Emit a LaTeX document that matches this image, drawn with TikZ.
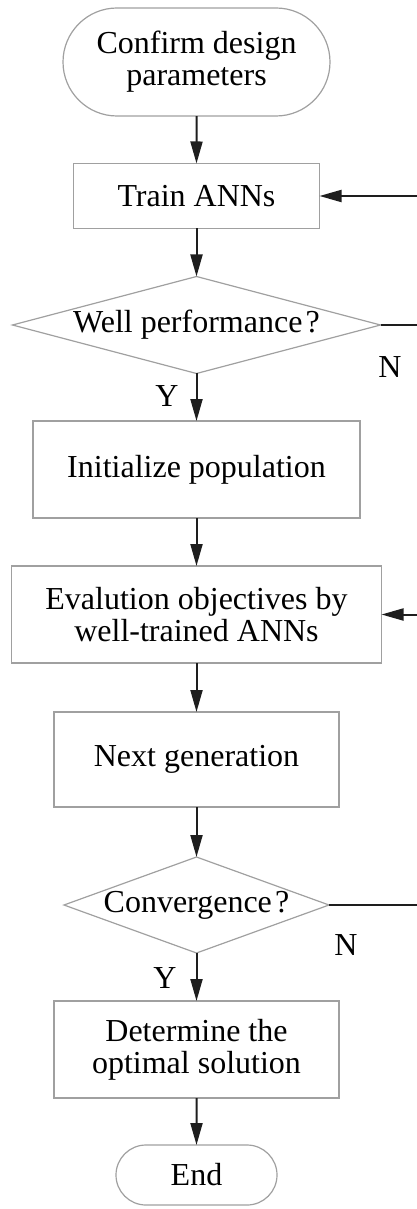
\documentclass[tikz,border=0pt]{standalone}
\usepackage{fontspec}
\setmainfont{Liberation Serif}
\usetikzlibrary{arrows.meta, positioning, shapes.geometric, shapes.misc}
\definecolor{fcgray}{RGB}{160, 160, 160}
\definecolor{fcline}{RGB}{30, 30, 30}

\begin{document}
\begin{tikzpicture}[x=0.5pt, y=-0.5pt, >={Triangle[length=11pt, width=6pt]},
    font=\fontsize{16}{16}\selectfont,
    term/.style={rounded rectangle, draw=fcgray, line width=0.6pt, align=center, inner sep=0pt, outer sep=0pt},
    proc/.style={rectangle, draw=fcgray, line width=0.6pt, align=center, inner sep=0pt, outer sep=0pt},
    cond/.style={diamond, draw=fcgray, line width=0.6pt, inner sep=0pt, outer sep=0pt},
    flow/.style={->, line width=1pt, fcline},
    back/.style={line width=1pt, fcline}]

\useasboundingbox (0,0) rectangle (417,1209);

% === Bloques del diagrama ===
\node[term, minimum width=133.5pt, minimum height=54pt] (confirm) at (196.5,62) {Confirm design\\parameters};
\node[proc, minimum width=123pt, minimum height=32.5pt] (train) at (196.5,196) {Train ANNs};
\node[cond, minimum width=184pt, minimum height=48.5pt, aspect=3.8] (perf) at (196.5,325) {Well performance\kern0.1em?};
\node[proc, minimum width=163.5pt, minimum height=48.5pt] (init) at (196.5,469.5) {Initialize population};
\node[proc, minimum width=185pt, minimum height=48.5pt] (evalobj) at (196.5,614.5) {Evalution objectives by\\well-trained ANNs};
\node[proc, minimum width=142.5pt, minimum height=47.5pt] (nextgen) at (196.5,759.5) {Next generation};
\node[cond, minimum width=132.5pt, minimum height=48pt, aspect=2.76] (conv) at (196.5,905) {Convergence\kern0.1em?};
\node[proc, minimum width=142.5pt, minimum height=48.5pt] (optimal) at (196.5,1049.5) {Determine the\\optimal solution};
\node[term, minimum width=80.5pt, minimum height=30pt] (finish) at (196.5,1175) {End};

% Etiquetas Y / N
\node (perfno) at (390,367) {N};
\node (perfyes) at (167,396) {Y};
\node (convno) at (346,945) {N};
\node (convyes) at (165,978) {Y};

% === Flechas ===
\draw[flow] (confirm) -- (train);
\draw[flow] (train) -- (perf);
\draw[flow] (perf) -- (init);
\draw[flow] (init) -- (evalobj);
\draw[flow] (evalobj) -- (nextgen);
\draw[flow] (nextgen) -- (conv);
\draw[flow] (conv) -- (optimal);
\draw[flow] (optimal) -- (finish);

% Retornos por el borde derecho
\coordinate (trainback) at (417,196);
\coordinate (perfout) at (417,325);
\coordinate (evalback) at (417,614.5);
\coordinate (convout) at (417,905);
\draw[back] (perf.east) -- (perfout);
\draw[flow] (trainback) -- (train.east);
\draw[back] (conv.east) -- (convout);
\draw[flow] (evalback) -- (evalobj.east);

\end{tikzpicture}
\end{document}
